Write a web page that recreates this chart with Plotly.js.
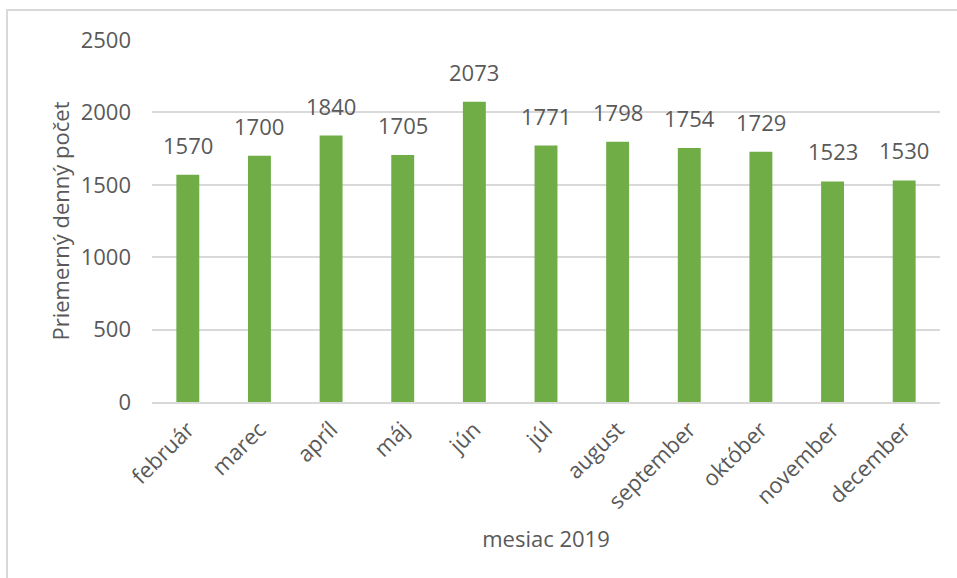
<!DOCTYPE html>
<html>
<head>
<meta charset="utf-8">
<script src="https://cdn.plot.ly/plotly-3.0.1.min.js"></script>
<style>
html,body{margin:0;padding:0;background:#fff;overflow:hidden;}
#frame{position:absolute;left:6px;top:9px;width:980px;height:600px;border:2px solid #d9d9d9;box-sizing:border-box;pointer-events:none;z-index:5;}
#chart{position:absolute;left:0;top:0;width:957px;height:578px;}
</style>
</head>
<body>
<div id="chart"></div>
<div id="frame"></div>
<script>
const months = ["február","marec","apríl","máj","jún","júl","august","september","október","november","december"];
const values = [1570,1700,1840,1705,2073,1771,1798,1754,1729,1523,1530];
const yTicks = [0,500,1000,1500,2000,2500];

const fontFam = "'Open Sans', 'Noto Sans', sans-serif";
const textColor = "#595959";
const fs = 22;

const trace = {
  type: "bar",
  x: months,
  y: values,
  marker: {color: "#70ad47"},
  hoverinfo: "x+y"
};

const annotations = months.map((m, i) => ({
  x: m, y: values[i], xref: "x", yref: "y",
  text: String(values[i]),
  showarrow: false, yanchor: "bottom", yshift: 13,
  font: {family: fontFam, size: fs, color: textColor}
}));

const layout = {
  width: 957, height: 578,
  margin: {l: 152, r: 17, t: 40, b: 176},
  paper_bgcolor: "#fff", plot_bgcolor: "#fff",
  showlegend: false,
  bargap: 0.68,
  font: {family: fontFam, color: textColor, size: fs},
  xaxis: {
    tickangle: -45,
    tickfont: {family: fontFam, size: fs, color: textColor},
    showline: true, linecolor: "#d9d9d9", linewidth: 2,
    showgrid: false, ticks: "",
    ticklabelstandoff: 4,
    title: {text: "mesiac 2019", font: {family: fontFam, size: fs, color: textColor}, standoff: 18}
  },
  yaxis: {
    range: [0, 2500],
    tickvals: yTicks,
    ticktext: yTicks.map(String),
    showgrid: true, gridcolor: "#d9d9d9", gridwidth: 2,
    zeroline: false, showline: false, ticks: "",
    ticklabelstandoff: 20,
    tickfont: {family: fontFam, size: fs, color: textColor},
    title: {text: "Priemerný denný počet", font: {family: fontFam, size: fs, color: textColor}, standoff: 4}
  },
  annotations: annotations
};

Plotly.newPlot("chart", [trace], layout, {displayModeBar: false, staticPlot: true});
</script>
</body>
</html>
